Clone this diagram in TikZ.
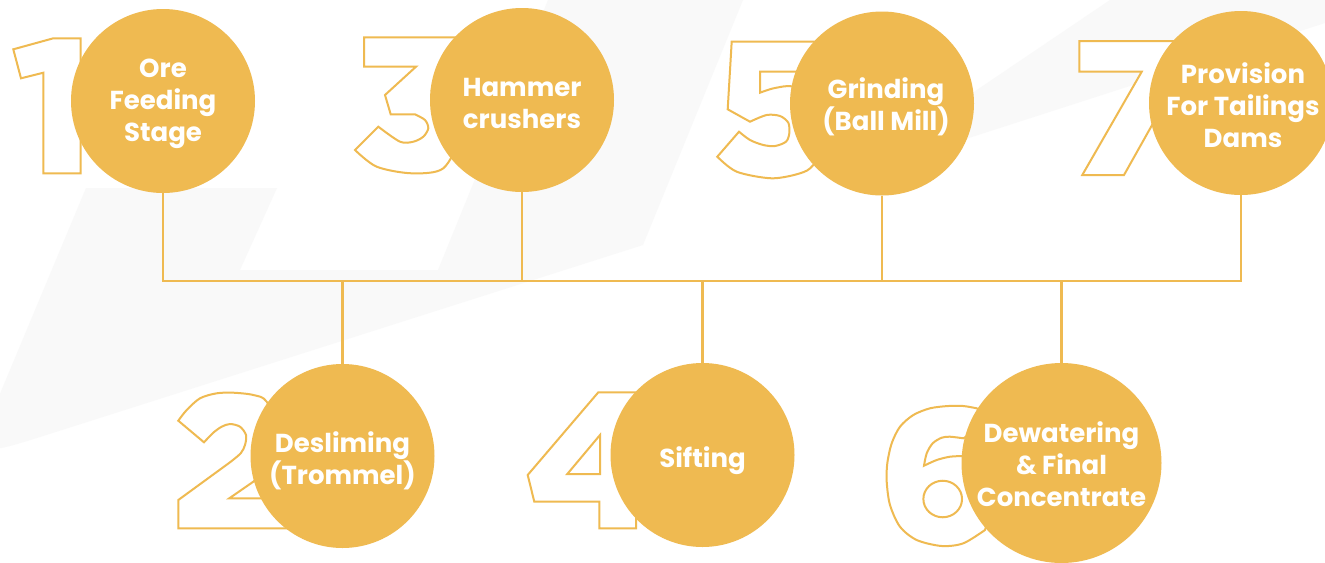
\documentclass[tikz,border=0pt]{standalone}
\usepackage{fontspec}
\newfontfamily\pop{Poppins}
\usetikzlibrary{backgrounds}
\definecolor{gold}{RGB}{239,186,81}
\definecolor{wm}{RGB}{249,249,249}
\begin{document}
\begin{tikzpicture}[x=0.75pt,y=-0.75pt,
  stage/.style={circle, fill=gold, minimum size=138pt, inner sep=0pt},
  lbl/.style={text=white, inner sep=0pt, font=\pop\bfseries\fontsize{19.5}{24}\selectfont, align=center},
  digit/.style={draw=gold, line width=1.5pt, fill=white, line join=miter},
  link/.style={draw=gold, line width=1.9pt}]
\useasboundingbox (0,0) rectangle (1325,562);

% stage circles
\node[stage] (c1) at (163,101) {};
\node[stage] (c3) at (522,100) {};
\node[stage] (c5) at (882,103.5) {};
\node[stage] (c7) at (1241,103) {};
\node[stage] (c2) at (342.5,456) {};
\node[stage] (c4) at (702.5,455) {};
\node[stage, minimum size=150pt] (c6) at (1061.5,463) {};

% labels
\node[lbl] (t1) at (163,103.5) {Ore\\Feeding\\Stage};
\node[lbl] (t3) at (522,103) {Hammer\\crushers};
\node[lbl] (t5) at (886,106.5) {Grinding\\(Ball Mill)};
\node[lbl] (t7) at (1243,105) {Provision\\For Tailings\\Dams};
\node[lbl] (t2) at (342.5,461) {Desliming\\(Trommel)};
\node[lbl] (t4) at (702.5,461) {Sifting};
\node[lbl] (t6) at (1061.5,464.5) {Dewatering\\\& Final\\Concentrate};

\begin{pgfonlayer}{background}
\fill[white] (0,0) rectangle (1325,562);
% faint watermark
\fill[wm] (86,188) -- (277,188) -- (240,270) -- (438,270) -- (548,0) -- (743,0) -- (643,245)
  -- (40,437) .. controls (-27,458) .. (7,377) -- cycle;
\fill[wm] (848,177) -- (1110,0) -- (1325,0) -- (1325,23) -- cycle;

% outlined numbers
% 1
\path[digit] (13.3,49.3) -- (53.3,38.3) -- (80.7,38.3) -- (80.7,173.3) -- (43.3,173.3)
  -- (43.3,72.7) -- (21,78.3) -- cycle;
% 3
\path[digit] (364,37.3) -- (460,37.3) -- (460,62) -- (432,90)
  -- plot[smooth] coordinates {(432,90) (452,105) (460,135) (443.3,168.3) (411.7,173.3) (376.7,166.7) (355,150)}
  -- (378.3,126.7)
  -- plot[smooth] coordinates {(378.3,126.7) (400,141.7) (413.3,141.7) (423.3,136.7) (428.3,128.3) (425,120) (415,114.3)}
  -- (390.7,114.3) -- (385,95) -- (416,66.7) -- (364,66.7) -- cycle;
% 5
\path[digit] (731.7,41.7) -- (818,41.7) -- (818,71.7) -- (760,71.7) -- (760,92.7)
  -- plot[smooth] coordinates {(760,92.7) (775,88) (795,87) (825,105) (832,135) (813.3,165) (800,173.3) (771.7,178.3) (736.7,171.7) (717.3,156.7)}
  -- (739,131.7)
  -- plot[smooth] coordinates {(739,131.7) (750,140) (763.3,145) (775,146) (786,141.7) (789.3,133.3) (788.3,122.7) (780,116) (766.7,115) (750,121.7)}
  -- (727.7,109.3) -- cycle;
% 7
\path[digit] (1079.3,41) -- (1182,41) -- (1182,71.7) -- (1124,175) -- (1082.3,175)
  -- (1141.7,71.7) -- (1079.3,71.7) -- cycle;
% 2
\path[digit] (178.3,500) -- (178.3,528.3) -- (300,528.3) -- (300,498.3) -- (229.3,498.3) -- (253.3,481.7)
  -- plot[smooth] coordinates {(253.3,481.7) (272,462) (280,435) (266.7,401.7) (253.3,395) (233.3,392.7) (216.7,393.3) (200,398.3) (186.7,410) (178.3,420.7)}
  -- (204,442.3)
  -- plot[smooth] coordinates {(204,442.3) (213.3,432.7) (221.7,426.7) (230,424) (240,426.7) (246,435) (245,445) (240.7,453.3) (230,462.3)}
  -- cycle;
% 4
\path[digit] (598.3,392.3) -- (636,392.3) -- (636,474) -- (655,474) -- (655,501.7) -- (636,501.7)
  -- (636,528.3) -- (599.3,528.3) -- (599.3,501.7) -- (534.3,501.7) -- (527.7,475) -- cycle;
\path[digit] (600,435) -- (600,474) -- (567.3,474) -- cycle;
% 6
\path[digit] plot[smooth] coordinates {(985,530) (963.3,543.3) (941.7,546) (916.7,540) (900,526.7) (890,505) (886.7,481.7) (887.3,463.3) (891.7,443.3) (900,426.7) (913.3,415) (930,408.3) (948.3,406) (963.3,406) (976.7,408.3)}
  -- (995,420) -- (963.3,438.3)
  -- plot[smooth] coordinates {(963.3,438.3) (950,436.7) (941.7,437.7) (932.7,443.3) (926.7,453.3) (924,465.7)}
  -- plot[smooth] coordinates {(924,465.7) (936.7,460) (950,456.7) (963.3,456)}
  -- (1000,480) -- cycle;
\path[digit] (942.7,499) ellipse [x radius=14.5pt, y radius=13.7pt];

% connectors
\coordinate (busL) at (163,281);
\coordinate (busR) at (1241,281);
\draw[link] (c1.south) |- (busR) -- (c7.south);
\draw[link] (c3.south) -- (c3.south |- busL);
\draw[link] (c5.south) -- (c5.south |- busL);
\draw[link] (c2.north) -- (c2.north |- busL);
\draw[link] (c4.north) -- (c4.north |- busL);
\draw[link] (c6.north) -- (c6.north |- busL);
\end{pgfonlayer}
\end{tikzpicture}
\end{document}
